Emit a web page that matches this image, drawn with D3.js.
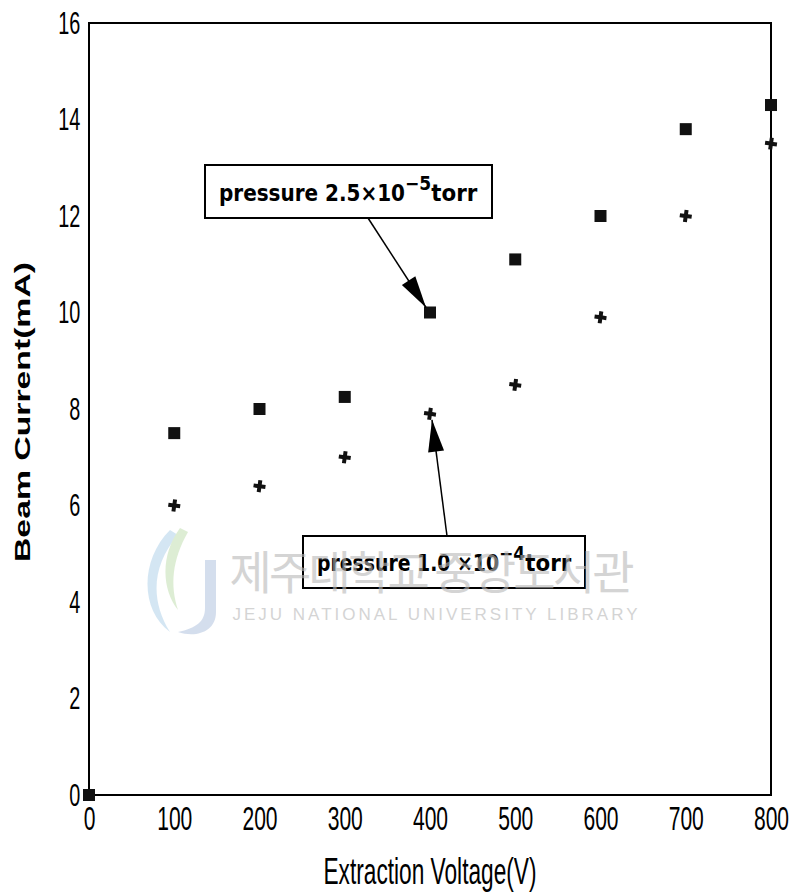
<!DOCTYPE html>
<html>
<head>
<meta charset="utf-8">
<script src="https://cdn.jsdelivr.net/npm/d3@7"></script>
<style>
  body { margin: 0; background: #fff; }
  svg { display: block; }
</style>
</head>
<body>
<svg id="chart"></svg>
<script>
// chart size matches the window
const width = 793;
const height = 896;

// data
const voltages = [0, 100, 200, 300, 400, 500, 600, 700, 800];
const currentLowPressure = [0, 7.5, 8.0, 8.25, 10.0, 11.1, 12.0, 13.8, 14.3]; // 2.5e-5 torr, squares
const currentHighVolt = [100, 200, 300, 400, 500, 600, 700, 800];
const currentHighPressure = [6.0, 6.4, 7.0, 7.9, 8.5, 9.9, 12.0, 13.5];  // 1.0e-4 torr, stars
const xTicks = [0, 100, 200, 300, 400, 500, 600, 700, 800];
const yTicks = [0, 2, 4, 6, 8, 10, 12, 14, 16];

const margin = { top: 23, right: 22, bottom: 101, left: 89 };

const svg = d3.select("#chart")
    .attr("width", width)
    .attr("height", height);

const x = d3.scaleLinear().domain([0, 800]).range([margin.left, width - margin.right]);
const y = d3.scaleLinear().domain([0, 16]).range([height - margin.bottom, margin.top]);

const sans = "'Liberation Sans', Arial, sans-serif";
const squeeze = 0.62; // the scanned labels use a tall condensed face

// frame
svg.append("rect")
    .attr("x", x(0)).attr("y", y(16))
    .attr("width", x(800) - x(0)).attr("height", y(0) - y(16))
    .attr("fill", "none")
    .attr("stroke", "#000")
    .attr("stroke-width", 2);

// axes: labels only, tick marks hidden
const xAxis = svg.append("g")
    .attr("transform", `translate(0,${y(0)})`)
    .call(d3.axisBottom(x).tickValues(xTicks).tickSize(0).tickPadding(11));
xAxis.select(".domain").remove();
xAxis.selectAll("text")
    .attr("font-family", sans)
    .attr("font-size", 34)
    .attr("fill", "#000")
    .attr("transform", `scale(${squeeze},1)`);

const yAxis = svg.append("g")
    .attr("transform", `translate(${x(0)},0)`)
    .call(d3.axisLeft(y).tickValues(yTicks).tickSize(0).tickPadding(14));
yAxis.select(".domain").remove();
yAxis.selectAll("text")
    .attr("font-family", sans)
    .attr("font-size", 32)
    .attr("fill", "#000")
    .attr("transform", `scale(${squeeze},1)`);

// axis titles
svg.append("text")
    .attr("x", 430).attr("y", 884)
    .attr("text-anchor", "middle")
    .attr("font-family", sans)
    .attr("font-size", 36)
    .attr("textLength", 213)
    .attr("lengthAdjust", "spacingAndGlyphs")
    .text("Extraction Voltage(V)");

svg.append("text")
    .attr("transform", `translate(30,412) rotate(-90)`)
    .attr("text-anchor", "middle")
    .attr("font-family", sans)
    .attr("font-weight", "bold")
    .attr("font-size", 22)
    .attr("textLength", 300)
    .attr("lengthAdjust", "spacingAndGlyphs")
    .text("Beam Current(mA)");

// series
const squares = voltages.map((v, i) => ({ v: v, c: currentLowPressure[i] }));
const stars = currentHighVolt.map((v, i) => ({ v: v, c: currentHighPressure[i] }));

svg.selectAll("rect.sq")
    .data(squares)
    .enter()
    .append("rect")
    .attr("class", "sq")
    .attr("x", d => x(d.v) - 6)
    .attr("y", d => y(d.c) - 6)
    .attr("width", 12)
    .attr("height", 12)
    .attr("fill", "#111");

svg.selectAll("path.star")
    .data(stars)
    .enter()
    .append("path")
    .attr("class", "star")
    .attr("transform", d => `translate(${x(d.v)},${y(d.c)}) rotate(8)`)
    .attr("d", d3.symbol().type(d3.symbolCross).size(80))
    .attr("fill", "#111");

// annotation boxes with arrows
function headPath(x1, y1, x2, y2, len, half) {
    const a = Math.atan2(y2 - y1, x2 - x1);
    const bx = x2 - len * Math.cos(a), by = y2 - len * Math.sin(a);
    const nx = -Math.sin(a) * half, ny = Math.cos(a) * half;
    return `M${x2},${y2} L${bx + nx},${by + ny} L${bx - nx},${by - ny} Z`;
}

function note(bx, by, bw, bh, parts, lens, fromX, fromY, toX, toY) {
    svg.append("line")
        .attr("x1", fromX).attr("y1", fromY)
        .attr("x2", toX).attr("y2", toY)
        .attr("stroke", "#000")
        .attr("stroke-width", 1.5);
    svg.append("path")
        .attr("d", headPath(fromX, fromY, toX, toY, 32, 8))
        .attr("fill", "#000");
    svg.append("rect")
        .attr("x", bx).attr("y", by)
        .attr("width", bw).attr("height", bh)
        .attr("fill", "#fff")
        .attr("stroke", "#000")
        .attr("stroke-width", 2);
    const t = svg.append("text")
        .attr("x", bx + 14).attr("y", by + bh / 2 + 9)
        .attr("font-family", "'DejaVu Sans Condensed', 'DejaVu Sans', sans-serif")
        .attr("font-weight", "bold")
        .attr("font-size", 23)
        .attr("fill", "#000");
    t.append("tspan").attr("textLength", lens[0]).attr("lengthAdjust", "spacingAndGlyphs").text(parts[0]);
    t.append("tspan").attr("font-size", 19).attr("dy", -11).text(parts[1]);
    t.append("tspan").attr("dy", 11).attr("textLength", lens[1]).attr("lengthAdjust", "spacingAndGlyphs").text(parts[2]);
}

note(205, 165, 287, 53, ["pressure  2.5×10", "−5", "torr"], [186, 46],
     368, 218, x(400) - 4, y(10) - 5);
note(303, 536, 282, 52, ["pressure 1.0 ×10", "−4", "torr"], [182, 46],
     447, 536, x(400) + 2, y(7.9) + 6);

// watermark (library stamp), laid faintly over the whole scan
const wm = svg.append("g").attr("opacity", 0.6);
wm.append("path")
    .attr("d", "M170,530 C140,560 140,610 170,632 C150,600 152,565 178,535 Z")
    .attr("fill", "#b9d7ec");
wm.append("path")
    .attr("d", "M180,528 C160,555 162,590 178,610 C170,585 172,560 188,532 Z")
    .attr("fill", "#c8e2b8");
wm.append("path")
    .attr("d", "M205,560 L216,560 L216,612 C216,632 196,638 178,632 C196,628 205,622 205,608 Z")
    .attr("fill", "#b9c9e2");
wm.append("text")
    .attr("x", 432).attr("y", 589)
    .attr("text-anchor", "middle")
    .attr("font-family", "'Noto Sans CJK KR', sans-serif")
    .attr("font-size", 46)
    .attr("fill", "#b8b8b8")
    .attr("textLength", 405)
    .text("제주대학교 중앙도서관");
wm.append("text")
    .attr("x", 435).attr("y", 620)
    .attr("text-anchor", "middle")
    .attr("font-family", sans)
    .attr("font-size", 17)
    .attr("fill", "#b8b8b8")
    .attr("textLength", 405)
    .text("JEJU NATIONAL UNIVERSITY   LIBRARY");
</script>
</body>
</html>
